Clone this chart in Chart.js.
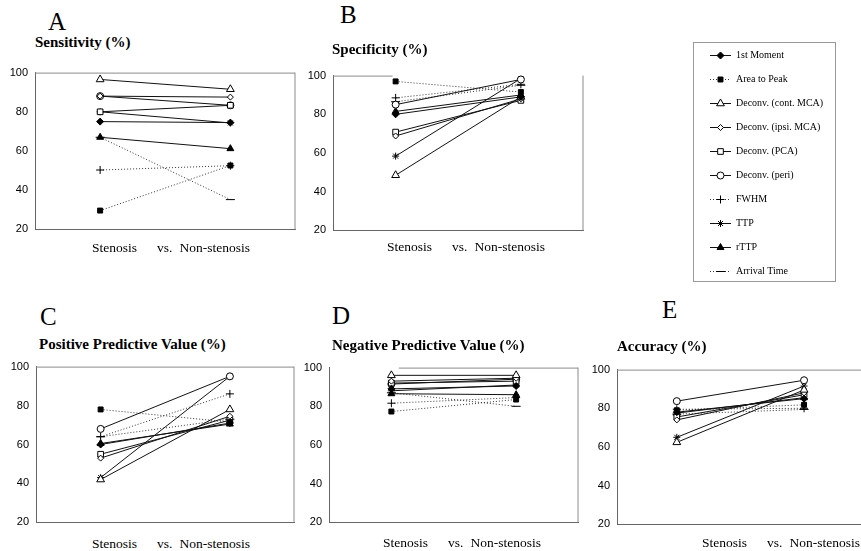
<!DOCTYPE html>
<html>
<head>
<meta charset="utf-8">
<script src="https://cdn.jsdelivr.net/npm/chart.js@4.4.1/dist/chart.umd.min.js"></script>
<style>
  body { margin: 0; background: #fff; width: 861px; height: 551px; position: relative; overflow: hidden; font-family: "Liberation Serif", "Times New Roman", serif; }
  .t { position: absolute; line-height: 1; white-space: nowrap; color: #000; }
  .letter { font-size: 25px; }
  .ttl { font-size: 15px; font-weight: bold; }
  .xl { font-size: 13.5px; }
  .lg { font-size: 10px; }
  canvas { position: absolute; }
  #legendBox { position: absolute; left: 693px; top: 42px; width: 143px; height: 240px; border: 1px solid #999; box-sizing: border-box; }
</style>
</head>
<body>
<script>
// methods, in legend order
const methods = ['1st Moment', 'Area to Peak', 'Deconv. (cont. MCA)', 'Deconv. (ipsi. MCA)', 'Deconv. (PCA)',
  'Deconv. (peri)', 'FWHM', 'TTP', 'rTTP', 'Arrival Time'];

// values: stenosis side / non-stenosis side
const sensStenosis = [75, 29.6, 96.5, 88, 80, 88, 50.3, 80, 67, 67];
const sensNon      = [74.5, 52.6, 91.5, 87.5, 83.3, 83.3, 52.5, 74.3, 61.2, 35.2];
const specStenosis = [80, 97, 48.5, 68.8, 70.8, 85, 88.5, 58.4, 81.5, 86.5];
const specNon      = [89, 91.5, 89, 88, 87.2, 98, 95.5, 98.5, 90, 95];
const ppvStenosis  = [60, 78, 42, 53, 55, 68, 64, 43, 60.5, 64];
const ppvNon       = [71, 71.5, 78, 74.5, 72.5, 95, 86, 95, 70.5, 73];
const npvStenosis  = [89, 77.3, 96, 93, 92, 91.5, 81.6, 88, 86.5, 87];
const npvNon       = [90.5, 83.5, 96, 94.5, 93, 94, 84.5, 91, 86, 80];
const accStenosis  = [78, 79, 62.4, 74, 75.5, 83.7, 79.5, 65, 77.5, 77];
const accNon       = [85, 81.8, 89.5, 88, 87, 94.5, 80, 91.5, 85.5, 79.4];

const yTicks = [20, 40, 60, 80, 100];
const panelTitles = ['Sensitivity (%)', 'Specificity (%)', 'Positive Predictive Value (%)', 'Negative Predictive Value (%)', 'Accuracy (%)'];
const panelLetters = ['A', 'B', 'C', 'D', 'E'];

// marker / line look of each method
const methodStyle = [
  { point: 'rectRot', fill: '#000', dash: [], r: 3.5 },
  { point: 'rect', fill: '#000', dash: [1, 2], r: 3.5 },
  { point: 'triangle', fill: '#fff', dash: [], r: 4.5 },
  { point: 'rectRot', fill: '#fff', dash: [], r: 3 },
  { point: 'rect', fill: '#fff', dash: [], r: 4 },
  { point: 'circle', fill: '#fff', dash: [], r: 3.5 },
  { point: 'cross', fill: '#000', dash: [1, 2], r: 4 },
  { point: 'star', fill: '#000', dash: [], r: 3.5 },
  { point: 'triangle', fill: '#000', dash: [], r: 4 },
  { point: 'line', fill: '#000', dash: [1, 2], r: 4.5 }
];

const panels = [
  { sten: sensStenosis, non: sensNon, box: { l: 35, t: 69, r: 297, b: 235 }, xr: [0, 4], topSeg: [0, 1], right: true, letter: [48, 9], title: [35, 35], xl: [92, 241] },
  { sten: specStenosis, non: specNon, box: { l: 333, t: 72, r: 585, b: 236 }, xr: [0, 4], topSeg: [0, 0.24], right: true, letter: [340, 2], title: [332, 42], xl: [387, 240] },
  { sten: ppvStenosis, non: ppvNon, box: { l: 36, t: 363, r: 296, b: 528 }, xr: [0, 4], topSeg: [0, 1], right: true, letter: [40, 304], title: [39, 337], xl: [92, 537] },
  { sten: npvStenosis, non: npvNon, box: { l: 329, t: 364, r: 580, b: 528 }, xr: [0, 4], topSeg: [0.28, 1], right: true, letter: [332, 303], title: [332, 338], xl: [383, 536] },
  { sten: accStenosis, non: accNon, box: { l: 617, t: 366, r: 866, b: 530 }, xr: [0.06, 3.95], topSeg: [0, 1], right: false, letter: [662, 297], title: [617, 339], xl: [702, 536] }
];

const boxBorder = {
  id: 'boxBorder',
  afterDraw(chart, args, opts) {
    const { ctx, chartArea: a } = chart;
    const w = a.right - a.left;
    ctx.save();
    ctx.strokeStyle = '#8a8a8a';
    ctx.lineWidth = 1;
    ctx.beginPath();
    ctx.moveTo(a.left + w * opts.topSeg[0], a.top + 0.5);
    ctx.lineTo(a.left + w * opts.topSeg[1] - 0.5, a.top + 0.5);
    if (opts.right) {
      ctx.moveTo(a.right - 0.5, a.top);
      ctx.lineTo(a.right - 0.5, a.bottom);
    }
    ctx.stroke();
    ctx.restore();
  }
};

function addText(cls, html, left, top) {
  const d = document.createElement('div');
  d.className = 't ' + cls;
  d.style.left = left + 'px';
  d.style.top = top + 'px';
  d.innerHTML = html;
  document.body.appendChild(d);
}

panels.forEach((p, k) => {
  const padTop = 10, padBottom = 8, axisW = 40, padRight = 4;
  const c = document.createElement('canvas');
  const w = p.box.r - p.box.l + axisW + padRight;
  const h = p.box.b - p.box.t + padTop + padBottom;
  c.width = w; c.height = h;
  c.style.left = (p.box.l - axisW) + 'px';
  c.style.top = (p.box.t - padTop) + 'px';
  document.body.appendChild(c);

  addText('letter', panelLetters[k], p.letter[0], p.letter[1]);
  addText('ttl', panelTitles[k], p.title[0], p.title[1]);
  addText('xl', 'Stenosis<span style="margin:0 7px 0 20px">vs.</span>Non-stenosis', p.xl[0], p.xl[1]);

  const datasets = methods.map((m, i) => {
    const s = methodStyle[i];
    return {
      label: m,
      data: [{ x: 1, y: p.sten[i] }, { x: 3, y: p.non[i] }],
      borderColor: s.dash.length ? '#333' : '#111',
      borderWidth: 1,
      borderDash: s.dash,
      pointStyle: s.point,
      pointRadius: s.r,
      pointBackgroundColor: s.fill,
      pointBorderColor: '#000',
      pointBorderWidth: 1,
      fill: false,
      tension: 0
    };
  });

  new Chart(c, {
    type: 'line',
    data: { datasets },
    options: {
      responsive: false,
      animation: false,
      devicePixelRatio: 1,
      layout: { padding: { top: padTop, bottom: padBottom, right: padRight, left: 0 } },
      plugins: {
        legend: { display: false },
        tooltip: { enabled: false },
        boxBorder: { topSeg: p.topSeg, right: p.right }
      },
      scales: {
        x: {
          type: 'linear', min: p.xr[0], max: p.xr[1],
          ticks: { display: false },
          grid: { display: false, drawTicks: false },
          border: { display: true, color: '#666' },
          afterFit: (s) => { s.height = 0; }
        },
        y: {
          min: 20, max: 100,
          afterBuildTicks: (s) => { s.ticks = yTicks.map((v) => ({ value: v })); },
          ticks: { padding: 7, color: '#000', font: { family: 'Liberation Sans', size: 11 } },
          grid: { display: false, drawTicks: false },
          border: { display: true, color: '#666' },
          afterFit: (s) => { s.width = axisW; }
        }
      }
    },
    plugins: [boxBorder]
  });
});

// legend: swatches drawn with Chart.js point helper, labels as text
const lb = document.createElement('div');
lb.id = 'legendBox';
document.body.appendChild(lb);
const lc = document.createElement('canvas');
lc.width = 45; lc.height = 240;
lc.style.left = '693px'; lc.style.top = '42px';
document.body.appendChild(lc);
const lctx = lc.getContext('2d');
methods.forEach((m, i) => {
  const s = methodStyle[i];
  const y = 13.5 + 24 * i;
  lctx.save();
  lctx.strokeStyle = s.dash.length ? '#333' : '#111';
  lctx.lineWidth = 1;
  lctx.setLineDash(s.dash);
  lctx.beginPath();
  lctx.moveTo(17, y); lctx.lineTo(38, y);
  lctx.stroke();
  lctx.setLineDash([]);
  lctx.fillStyle = s.fill;
  lctx.strokeStyle = '#000';
  Chart.helpers.drawPoint(lctx, { pointStyle: s.point, radius: s.r, rotation: 0, borderWidth: 1 }, 27.5, y);
  lctx.restore();
  addText('lg', m, 736, 50 + 24 * i);
});
</script>
</body>
</html>
